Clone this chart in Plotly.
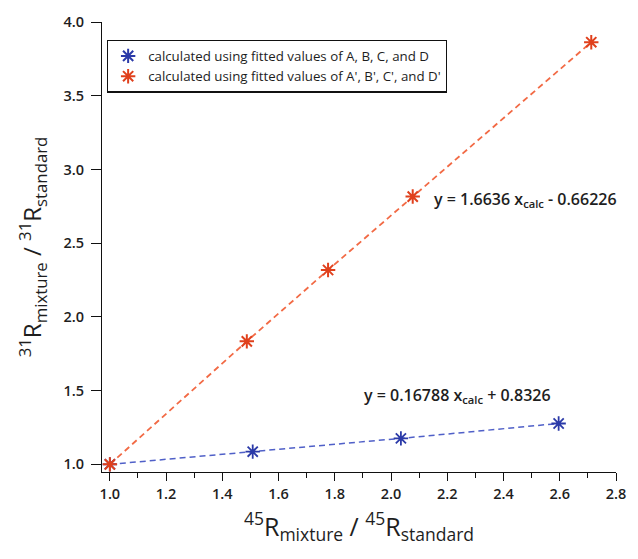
import plotly.graph_objects as go

# Ratio data for the two fitted parameter sets
x_abcd = [1.0, 1.508, 2.035, 2.596]
y_abcd = [1.0, 1.086, 1.176, 1.277]

x_prime = [1.0, 1.487, 1.776, 2.077, 2.712]
y_prime = [1.0, 1.834, 2.318, 2.816, 3.863]

names = [
    "calculated using fitted values of A, B, C, and D",
    "calculated using fitted values of A', B', C', and D'",
]
fit_labels = [
    "y = 0.16788 x<sub>calc</sub> + 0.8326",
    "y = 1.6636 x<sub>calc</sub> - 0.66226",
]

x_ticks = [1.0, 1.2, 1.4, 1.6, 1.8, 2.0, 2.2, 2.4, 2.6, 2.8]
y_ticks = [1.0, 1.5, 2.0, 2.5, 3.0, 3.5, 4.0]

BLUE = "#2b3aa8"
BLUE_LINE = "#5060c8"
ORANGE = "#e0401c"
ORANGE_LINE = "#f26a45"
FONT = "Open Sans"
TXT = "#1e1e1e"

fig = go.Figure()

# dashed connecting lines (not in legend)
fig.add_trace(go.Scatter(x=x_abcd, y=y_abcd, mode="lines",
                         line=dict(color=BLUE_LINE, width=1.5, dash="6px,4px"),
                         showlegend=False, hoverinfo="skip"))
fig.add_trace(go.Scatter(x=x_prime, y=y_prime, mode="lines",
                         line=dict(color=ORANGE_LINE, width=1.8, dash="6px,4px"),
                         showlegend=False, hoverinfo="skip"))

# markers
fig.add_trace(go.Scatter(x=x_abcd, y=y_abcd, mode="markers", name=names[0],
                         marker=dict(symbol="asterisk-open", size=12, color=BLUE,
                                     line=dict(color=BLUE, width=1.8))))
fig.add_trace(go.Scatter(x=x_prime, y=y_prime, mode="markers", name=names[1],
                         marker=dict(symbol="asterisk-open", size=12, color=ORANGE,
                                     line=dict(color=ORANGE, width=2))))

# fit equations
fig.add_annotation(x=2.147, y=2.796, xref="x", yref="y", text=fit_labels[1],
                   showarrow=False, xanchor="left", yanchor="middle",
                   font=dict(family=FONT, size=16, color=TXT, weight=600))
fig.add_annotation(x=1.895, y=1.467, xref="x", yref="y", text=fit_labels[0],
                   showarrow=False, xanchor="left", yanchor="middle",
                   font=dict(family=FONT, size=16, color=TXT, weight=600))

axis_common = dict(
    showline=True, linecolor="#111", linewidth=1.3, mirror=False,
    showgrid=False, zeroline=False, ticks="outside",
    tickwidth=1.3, tickcolor="#111",
    tickfont=dict(family=FONT, size=14.5, color=TXT, weight=600),
)

fig.update_layout(
    width=638, height=559,
    margin=dict(l=102, r=13, t=19, b=87),
    paper_bgcolor="white", plot_bgcolor="white",
    font=dict(family=FONT, color=TXT),
    xaxis=dict(range=[0.972, 2.8], tickvals=x_ticks, ticklen=8,
               ticktext=[f"{v:.1f}" for v in x_ticks],
               minor=dict(ticks="outside", ticklen=5, tickwidth=1.3,
                          tickcolor="#111", dtick=0.1, tick0=1.0),
               title=dict(text="<sup>45</sup>R<sub>mixture</sub> / <sup>45</sup>R<sub>standard</sub>",
                          font=dict(family=FONT, size=25, color=TXT), standoff=16),
               **axis_common),
    yaxis=dict(range=[0.948, 4.0], tickvals=y_ticks, ticklen=10,
               ticklabelstandoff=4,
               ticktext=[f"{v:.1f}" for v in y_ticks],
               title=dict(text="<sup>31</sup>R<sub>mixture</sub> / <sup>31</sup>R<sub>standard</sub>",
                          font=dict(family=FONT, size=24, color=TXT), standoff=14),
               **axis_common),
    legend=dict(x=0.0096, y=0.961, xanchor="left", yanchor="top",
                bgcolor="white", bordercolor="#111", borderwidth=1.2,
                font=dict(family=FONT, size=13.3, color=TXT, weight=500),
                itemsizing="constant", tracegroupgap=0),
    showlegend=True,
)

fig.write_html("out.html")
